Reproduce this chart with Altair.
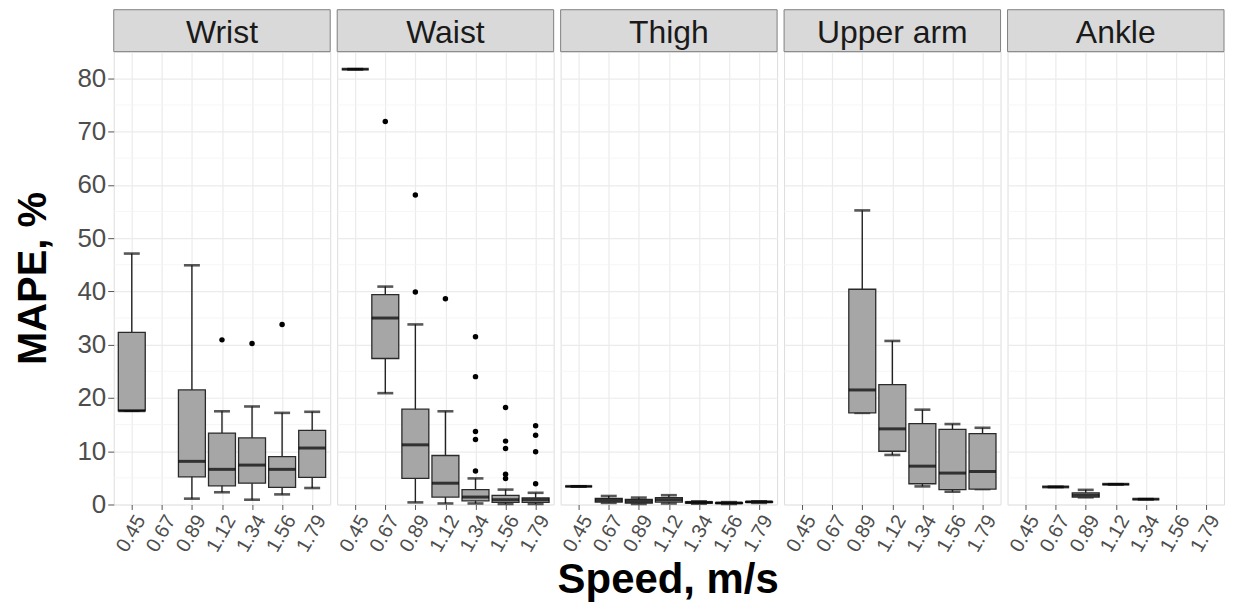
import altair as alt
import pandas as pd

speeds = ["0.45", "0.67", "0.89", "1.12", "1.34", "1.56", "1.79"]

# ---- Wrist ----
wrist_speed = ["0.45", "0.89", "1.12", "1.34", "1.56", "1.79"]
wrist_lo = [17.6, 1.1, 2.3, 0.9, 1.9, 3.1]
wrist_q1 = [17.6, 5.2, 3.5, 4.0, 3.2, 5.1]
wrist_med = [17.6, 8.1, 6.6, 7.4, 6.6, 10.6]
wrist_q3 = [32.3, 21.5, 13.4, 12.5, 9.0, 13.9]
wrist_hi = [47.1, 44.9, 17.5, 18.4, 17.2, 17.4]
wrist_out_speed = ["1.12", "1.34", "1.56"]
wrist_out = [30.9, 30.2, 33.8]

# ---- Waist ----
waist_speed = ["0.45", "0.67", "0.89", "1.12", "1.34", "1.56", "1.79"]
waist_lo = [81.7, 20.9, 0.4, 0.2, 0.2, 0.1, 0.1]
waist_q1 = [81.7, 27.4, 4.9, 1.4, 0.7, 0.4, 0.4]
waist_med = [81.7, 35.0, 11.2, 4.0, 1.4, 0.9, 0.9]
waist_q3 = [81.7, 39.4, 17.9, 9.2, 2.8, 1.7, 1.25]
waist_hi = [81.7, 40.9, 33.8, 17.5, 4.9, 2.8, 2.2]
waist_out_speed = ["0.67", "0.89", "0.89", "1.12",
                   "1.34", "1.34", "1.34", "1.34", "1.34",
                   "1.56", "1.56", "1.56", "1.56", "1.56",
                   "1.79", "1.79", "1.79", "1.79"]
waist_out = [71.9, 58.1, 39.9, 38.6,
             31.5, 24.0, 13.7, 12.2, 6.3,
             18.2, 11.9, 10.5, 5.7, 4.9,
             14.8, 13.0, 9.9, 3.9]

# ---- Thigh ----
thigh_speed = ["0.45", "0.67", "0.89", "1.12", "1.34", "1.56", "1.79"]
thigh_lo = [3.4, 0.3, 0.1, 0.2, 0.15, 0.1, 0.3]
thigh_q1 = [3.4, 0.45, 0.25, 0.45, 0.25, 0.2, 0.4]
thigh_med = [3.4, 0.8, 0.6, 0.9, 0.4, 0.3, 0.5]
thigh_q3 = [3.4, 1.15, 0.95, 1.3, 0.5, 0.35, 0.55]
thigh_hi = [3.4, 1.6, 1.3, 1.75, 0.6, 0.45, 0.6]
thigh_out_speed = []
thigh_out = []

# ---- Upper arm ----
uarm_speed = ["0.89", "1.12", "1.34", "1.56", "1.79"]
uarm_lo = [17.2, 9.3, 3.4, 2.4, 2.9]
uarm_q1 = [17.2, 10.0, 3.9, 2.8, 2.9]
uarm_med = [21.5, 14.2, 7.2, 5.9, 6.2]
uarm_q3 = [40.4, 22.5, 15.2, 14.1, 13.3]
uarm_hi = [55.2, 30.7, 17.8, 15.1, 14.4]
uarm_out_speed = []
uarm_out = []

# ---- Ankle ----
ankle_speed = ["0.67", "0.89", "1.12", "1.34"]
ankle_lo = [3.3, 1.35, 3.8, 1.0]
ankle_q1 = [3.3, 1.4, 3.8, 1.0]
ankle_med = [3.3, 1.75, 3.8, 1.0]
ankle_q3 = [3.3, 2.2, 3.8, 1.0]
ankle_hi = [3.3, 2.75, 3.8, 1.0]
ankle_out_speed = []
ankle_out = []

major_ticks = [0, 10, 20, 30, 40, 50, 60, 70, 80]
minor_ticks = [5, 15, 25, 35, 45, 55, 65, 75]

FONT = "Liberation Sans"
W = 217
H = 454
YMAX = 85
STRIP = 42

panels_spec = [
    ("Wrist", wrist_speed, wrist_lo, wrist_q1, wrist_med, wrist_q3, wrist_hi, wrist_out_speed, wrist_out),
    ("Waist", waist_speed, waist_lo, waist_q1, waist_med, waist_q3, waist_hi, waist_out_speed, waist_out),
    ("Thigh", thigh_speed, thigh_lo, thigh_q1, thigh_med, thigh_q3, thigh_hi, thigh_out_speed, thigh_out),
    ("Upper arm", uarm_speed, uarm_lo, uarm_q1, uarm_med, uarm_q3, uarm_hi, uarm_out_speed, uarm_out),
    ("Ankle", ankle_speed, ankle_lo, ankle_q1, ankle_med, ankle_q3, ankle_hi, ankle_out_speed, ankle_out),
]


def make_panel(name, sp, lo, q1, med, q3, hi, osp, ov, first):
    df = pd.DataFrame({"speed": sp, "lo": lo, "q1": q1, "med": med, "q3": q3, "hi": hi})
    out = pd.DataFrame({"speed": osp, "val": ov})
    minor = pd.DataFrame({"v": minor_ticks})
    strip = pd.DataFrame({"name": [name]})

    xscale = alt.Scale(type="point", domain=speeds, padding=0.6)
    xaxis = alt.Axis(labelAngle=300, labelAlign="right", labelBaseline="top",
                     labelFontSize=20, labelColor="#4d4d4d", labelFont=FONT,
                     grid=True, gridColor="#ebebeb", gridWidth=1.2,
                     tickColor="#555555", tickSize=5, domain=False, labelPadding=2)
    yscale = alt.Scale(domain=[0, YMAX], nice=False, zero=False)
    if first:
        yaxis = alt.Axis(values=major_ticks, labelFontSize=26, labelColor="#4d4d4d",
                         labelFont=FONT, grid=True, gridColor="#ebebeb", gridWidth=1.2,
                         tickColor="#555555", tickSize=6, domain=False, labelPadding=2,
                         titleFontSize=40, titleFontWeight="bold", titleFont=FONT,
                         titleColor="#000000", titlePadding=23)
        ytitle = "MAPE, %"
    else:
        yaxis = alt.Axis(values=major_ticks, labels=False, ticks=False, domain=False,
                         grid=True, gridColor="#ebebeb", gridWidth=1.2)
        ytitle = None

    def X():
        return alt.X("speed:N", scale=xscale, axis=xaxis, title=None)

    def Y(field):
        if ytitle:
            return alt.Y(field, scale=yscale, axis=yaxis, title=ytitle)
        return alt.Y(field, scale=yscale, axis=yaxis, title=None)

    minor_grid = alt.Chart(minor).mark_rule(color="#f4f4f4", strokeWidth=0.8).encode(
        y=Y("v:Q"))
    whisk = alt.Chart(df).mark_rule(color="#222222", strokeWidth=1.4).encode(
        x=X(), y=Y("lo:Q"), y2="hi:Q")
    caps_lo = alt.Chart(df).mark_tick(color="#111111", size=16, thickness=2.6).encode(
        x=X(), y=Y("lo:Q"))
    caps_hi = alt.Chart(df).mark_tick(color="#111111", size=16, thickness=2.6).encode(
        x=X(), y=Y("hi:Q"))
    box = alt.Chart(df).mark_bar(size=27, fill="#a6a6a6", stroke="#2a2a2a",
                                 strokeWidth=1.3).encode(
        x=X(), y=Y("q1:Q"), y2="q3:Q")
    median = alt.Chart(df).mark_tick(color="#000000", size=27, thickness=3).encode(
        x=X(), y=Y("med:Q"))
    layers = [minor_grid, whisk, caps_lo, caps_hi, box, median]
    if len(ov) > 0:
        pts = alt.Chart(out).mark_circle(color="#000000", size=30, opacity=1).encode(
            x=X(), y=Y("val:Q"))
        layers.append(pts)
    strip_rect = alt.Chart(strip).mark_rect(fill="#d9d9d9", stroke="#7f7f7f",
                                             strokeWidth=1).encode(
        x=alt.value(0), x2=alt.value(W), y=alt.value(-STRIP), y2=alt.value(0))
    strip_text = alt.Chart(strip).mark_text(font=FONT, fontSize=32, color="#1a1a1a",
                                             baseline="middle", align="center").encode(
        x=alt.value(W / 2), y=alt.value(-19), text="name:N")
    layers += [strip_rect, strip_text]
    return alt.layer(*layers).properties(width=W, height=H)


panels = [make_panel(*spec, first=(i == 0)) for i, spec in enumerate(panels_spec)]

chart = alt.HConcatChart(hconcat=panels, spacing=7, bounds="flush").properties(
    title=alt.TitleParams("Speed, m/s", orient="bottom", anchor="middle", fontSize=42,
                          fontWeight="bold", font=FONT, color="#000000", offset=4, dx=49),
    padding={"left": 5, "top": 0, "right": 2, "bottom": 2},
).configure_view(stroke="#7f7f7f", strokeWidth=1).configure(font=FONT)

chart.save("out.html", embed_options={"renderer": "svg", "actions": False})
